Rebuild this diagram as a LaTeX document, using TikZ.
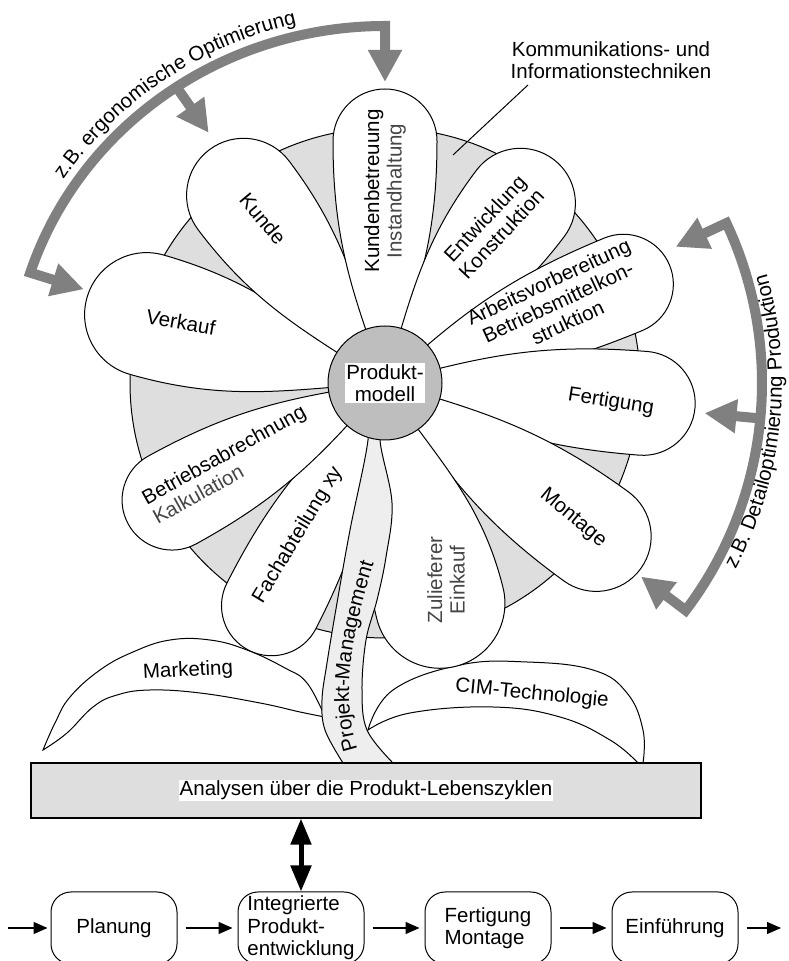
\documentclass[tikz,border=0pt]{standalone}
\usepackage{fontspec}
\setmainfont{Liberation Sans}
\usepackage{tikz}
\usetikzlibrary{arrows.meta, positioning, calc, decorations.text}

\definecolor{discgray}{RGB}{222,222,222}
\definecolor{hubgray}{RGB}{190,190,190}
\definecolor{stemgray}{RGB}{238,238,238}
\definecolor{bandgray}{RGB}{128,128,128}
\definecolor{softblack}{RGB}{70,70,70}

\newcommand{\lblfont}{\fontsize{20.5}{22.5}\selectfont}

\tikzset{
  petal/.style={draw, fill=white, line width=1pt},
  leaf/.style={draw, fill=white, line width=1pt},
  stem/.style={draw, fill=stemgray, line width=1pt},
  disc/.style={draw, fill=discgray, line width=1pt},
  hub/.style={circle, draw, fill=hubgray, line width=1pt,
    minimum size=114pt, inner sep=0pt},
  tag/.style={font=\lblfont, align=center, inner sep=1pt},
  whitetag/.style={tag, fill=white},
  band/.style={draw=bandgray, line width=10pt, line join=miter,
    -{Triangle[length=32pt,width=32pt]}},
  bandboth/.style={band,
    {Triangle[length=32pt,width=32pt]}-{Triangle[length=32pt,width=32pt]}},
  anabox/.style={draw, fill=discgray, line width=1.2pt,
    minimum width=670pt, minimum height=55pt},
  stage/.style={draw, rounded corners=20pt, line width=1pt,
    minimum width=126pt, minimum height=72pt,
    font=\lblfont, align=left, inner sep=2pt},
  flow/.style={-{Triangle[length=14pt,width=12pt]}, line width=1.2pt,
    shorten <=8pt, shorten >=5pt},
  dblarrow/.style={{Triangle[length=26pt,width=20pt]}-{Triangle[length=26pt,width=20pt]},
    line width=5pt},
  leader/.style={line width=1pt},
}

% one petal: axis angle, length, tip radius
\newcommand{\petal}[3]{%
  \begin{scope}[shift={(fc)}, rotate=#1]
    \pgfmathsetmacro{\pd}{#2-#3}
    \draw[petal] (0,0) .. controls (0.38*\pd,-0.14*\pd) and (0.6*\pd,-#3) .. (\pd,-#3)
      arc[start angle=-90, end angle=90, radius=#3]
      .. controls (0.6*\pd,#3) and (0.38*\pd,0.14*\pd) .. (0,0) -- cycle;
  \end{scope}}

\begin{document}
\begin{tikzpicture}[x=1pt, y=1pt, node distance=60pt]

  \path[use as bounding box, clip] (0,0) rectangle (788,961);

  \coordinate (fc) at (385,578);

  %% Disc behind the petals
  \draw[disc] (fc) circle[radius=255];

  %% Leaves
  \draw[leaf] plot[smooth, tension=0.7] coordinates {(43,211) (55,238) (70,264)
      (100,291) (133,309) (170,321) (210,321) (247,311) (285,293) (307,278) (325,244)}
    -- plot[smooth, tension=0.7] coordinates {(325,244) (300,249) (260,258)
      (200,268) (150,271) (117,266) (93,254) (67,228) (43,211)} -- cycle;
  \draw[leaf] plot[smooth, tension=0.7] coordinates {(368,231) (393,271) (460,296)
      (527,299) (593,291) (627,268) (643,231) (643,198)}
    -- plot[smooth, tension=0.7] coordinates {(638,198) (610,221) (560,244)
      (493,254) (410,248) (368,231)} -- cycle;

  %% Petals
  \foreach \ang/\len/\rad in {164/310/62, 127/292/57, 90/294/52, 53/280/55,
      22.5/308/50, -4.5/311/52, -36/316/55, -76/292/65, -117/300/50, 208.8/293/50}
    \petal{\ang}{\len}{\rad};

  %% Stem
  \draw[stem] plot[smooth, tension=0.6] coordinates {(366,560) (368,521) (350,431)
      (337,358) (327,298) (322,261) (325,231) (343,198)}
    -- plot[smooth, tension=0.6] coordinates {(393,198) (367,231) (362,271)
      (366,321) (377,361) (386,404) (392,458) (380,521) (384,560)} -- cycle;
  \coordinate (pmA) at (360,204);
  \coordinate (pmB) at (376,405);
  \path[decorate, decoration={text along path, text align=center,
      text={|\lblfont|Projekt-Management}}]
    (pmA) .. controls (338,262) and (352,330) .. (pmB);

  %% Centre
  \node[hub] (pm) at (fc) {};
  \node[whitetag] (pmtxt) at (pm.center) {Produkt-\\modell};

  %% Petal labels
  \node[tag, rotate=-10] (verk) at (181,639) {Verkauf};
  \node[tag, rotate=-50] (kunde) at (263,742) {Kunde};
  \node[tag, rotate=90] (kbt) at (385,770)
    {Kundenbetreuung\\\textcolor{softblack}{Instandhaltung}};
  \node[tag, rotate=47] (entw) at (493,735) {Entwicklung\\Konstruktion};
  \node[tag, rotate=25] (avb) at (558,659)
    {Arbeitsvorbereitung\\Betriebsmittelkon-\\struktion};
  \node[tag, rotate=-9] (fert) at (611,559) {Fertigung};
  \node[tag, rotate=-40] (mont) at (573,443) {Montage};
  \node[tag, rotate=90] (zul) at (446,381)
    {\textcolor{softblack}{Zulieferer}\\\textcolor{softblack}{Einkauf}};
  \node[tag, rotate=59] (fach) at (298,426) {Fachabteilung xy};
  \node[tag, rotate=29, align=left] (bab) at (229,497)
    {Betriebsabrechnung\\\textcolor{softblack}{Kalkulation}};
  \node[tag, rotate=3] (mkt) at (188,290) {Marketing};
  \node[tag, rotate=-5.5] (cim) at (532,267) {CIM-Technologie};

  %% Communication label
  \node[tag] (kit) at (611,901) {Kommunikations- und\\Informationstechniken};
  \coordinate (kitend) at (453,806);
  \draw[leader] ([xshift=-83pt,yshift=-5pt]kit.south) -- (kitend);

  %% Optimisation arrows
  \coordinate (ergA) at ($(fc)+(162:373 and 357)$);
  \coordinate (ergB) at ($(fc)+(124:373 and 357)$);
  \coordinate (ergC) at ($(fc)+(90:373 and 357)$);
  \coordinate (detA) at ($(fc)+(25.1:377)$);
  \coordinate (detB) at ($(fc)+(-5.4:377)$);
  \coordinate (detC) at ($(fc)+(-37.1:377)$);
  \foreach \p in {ergA, ergB, ergC, detA, detB, detC}
    \coordinate (\p tip) at ($(\p)!56pt!(fc)$);

  \draw[bandboth] (ergAtip) -- (ergA)
    arc[start angle=162, end angle=90, x radius=373, y radius=357] -- (ergCtip);
  \draw[band] (ergB) -- (ergBtip);
  \draw[bandboth] (detAtip) -- (detA)
    arc[start angle=25.1, end angle=-37.1, radius=377] -- (detCtip);
  \draw[band] (detB) -- (detBtip);

  \path[decorate, decoration={text along path, text align=center,
      text={|\lblfont|z.B. ergonomische Optimierung}}]
    ($(fc)+(150:385 and 369)$) arc[start angle=150, end angle=100, x radius=385, y radius=369];
  \path[decorate, decoration={text along path, text align=center,
      text={|\lblfont|z.B. Detailoptimierung Produktion}}]
    ($(fc)+(-31:397)$) arc[start angle=-31, end angle=19, radius=397];

  %% Life cycle analysis
  \node[anabox] (ana) at (366,170.5) {};
  \node[whitetag] (anatxt) at (ana.center) {Analysen über die Produkt-Lebenszyklen};

  %% Process chain
  \node[stage] (plan) at (114,33) {Planung};
  \node[stage, right=of plan] (ipe) {Integrierte\\Produkt-\\entwicklung};
  \node[stage, right=of ipe] (fm) {Fertigung\\Montage};
  \node[stage, right=of fm] (einf) {Einführung};

  \coordinate (flowin) at (8,33);
  \coordinate (flowout) at (781,33);
  \draw[flow, shorten <=0pt, shorten >=3pt] (flowin) -- (plan);
  \foreach \from/\to in {plan/ipe, ipe/fm, fm/einf}
    \draw[flow] (\from) -- (\to);
  \draw[flow, shorten >=0pt] (einf) -- (flowout);

  \draw[dblarrow] (ana.south -| ipe.north) -- (ipe.north);

\end{tikzpicture}
\end{document}
